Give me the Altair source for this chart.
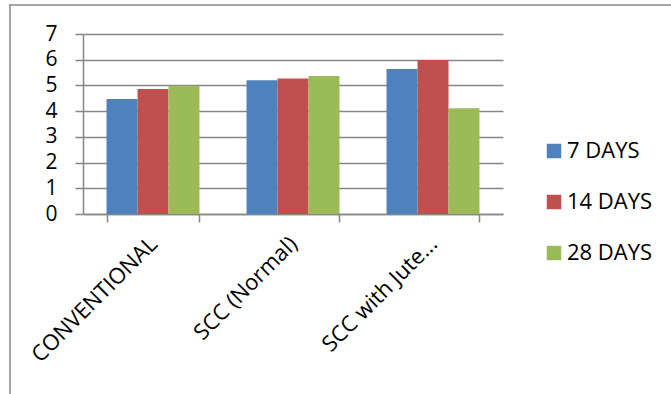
import altair as alt
import pandas as pd

categories = ["CONVENTIONAL", "SCC (Normal)", "SCC with Jute..."]
series = ["7 DAYS", "14 DAYS", "28 DAYS"]
values_7 = [4.47, 5.20, 5.64]
values_14 = [4.86, 5.27, 5.99]
values_28 = [4.99, 5.37, 4.11]
colors = ["#4F81BD", "#C0504D", "#9BBB59"]
y_ticks = [0, 1, 2, 3, 4, 5, 6, 7]

rows = []
for s, vals in zip(series, [values_7, values_14, values_28]):
    for c, v in zip(categories, vals):
        rows.append({"category": c, "series": s, "value": v})
df = pd.DataFrame(rows)

FONT = "Open Sans"
GRID = "#878787"

bars = alt.Chart(df).mark_bar().encode(
    x=alt.X(
        "category:N",
        sort=categories,
        title=None,
        scale=alt.Scale(paddingInner=0.336, paddingOuter=0.168),
        axis=alt.Axis(
            labelAngle=-45,
            labelAlign="right",
            labelBaseline="top",
            labelPadding=11,
            labelOffset=-7,
            tickBand="extent",
            tickSize=8,
            tickColor=GRID,
            domainColor=GRID,
            domainWidth=1.5,
            tickWidth=1.5,
            grid=False,
            labelFont=FONT,
            labelFontSize=22,
            labelColor="black",
        ),
    ),
    xOffset=alt.XOffset("series:N", sort=series,
                        scale=alt.Scale(paddingInner=0, paddingOuter=0)),
    y=alt.Y(
        "value:Q",
        title=None,
        scale=alt.Scale(domain=[0, 7], nice=False),
        axis=alt.Axis(
            values=y_ticks,
            grid=True,
            gridColor=GRID,
            gridWidth=1.5,
            tickSize=8,
            tickColor=GRID,
            tickWidth=1.5,
            domainColor=GRID,
            domainWidth=1.5,
            labelPadding=18,
            labelFont=FONT,
            labelFontSize=21,
            labelColor="black",
        ),
    ),
    color=alt.Color(
        "series:N",
        sort=series,
        scale=alt.Scale(domain=series, range=colors),
        legend=alt.Legend(
            title=None,
            orient="none",
            legendX=460,
            legendY=106,
            padding=0,
            symbolType="square",
            symbolSize=210,
            symbolStrokeWidth=0,
            labelFont=FONT,
            labelFontSize=22,
            labelColor="black",
            labelOffset=2,
            rowPadding=29,
        ),
    ),
)

frame = pd.DataFrame({"a": [0]})
left_border = alt.Chart(frame).mark_rule(color="#888888", strokeWidth=1.5).encode(
    x=alt.value(-73), y=alt.value(-29), y2=alt.value(362)
)
top_border = alt.Chart(frame).mark_rule(color="#888888", strokeWidth=1.5).encode(
    x=alt.value(-74), x2=alt.value(590), y=alt.value(-29)
)

chart = alt.layer(bars, left_border, top_border).properties(
    width=420,
    height=180,
    autosize=alt.AutoSizeParams(type="none"),
    padding={"left": 83, "top": 34, "right": 168, "bottom": 180},
    background="white",
).configure_view(stroke=None)

chart.save("out.html", embed_options={"renderer": "svg", "actions": False})
